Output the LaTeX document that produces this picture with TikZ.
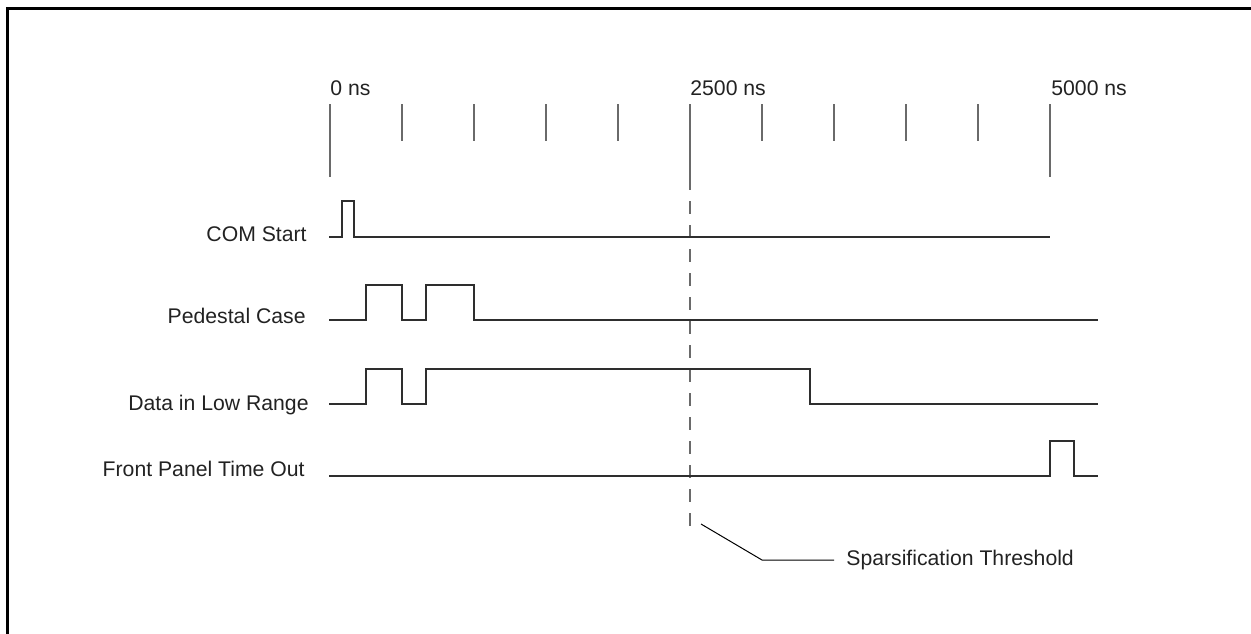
\documentclass[tikz,border=0pt]{standalone}
\usepackage{fontspec}
\setmainfont{Liberation Sans}
\definecolor{tickgray}{HTML}{6A6A6A}
\definecolor{wavegray}{HTML}{2E2E2E}
\definecolor{textgray}{HTML}{222222}
\tikzset{
  wave/.style={draw=wavegray, line width=0.8pt},
  tickmark/.style={draw=tickgray, line width=1pt},
  thresh/.style={draw=tickgray, line width=0.9pt, dash pattern=on 6.5pt off 5.5pt},
  signame/.style={inner sep=0pt, text=textgray, font=\fontsize{10.6pt}{12pt}\selectfont}
}
\begin{document}
\begin{tikzpicture}[x=0.5pt,y=-0.5pt]
\useasboundingbox (0,0) rectangle (1251,633);

% Marco
\draw[line width=1.5pt] (7.5,640) -- (7.5,8.5) -- (1260,8.5);

% Escala de tiempo
\node[signame, anchor=base west] (t0) at (330,95) {0 ns};
\node[signame, anchor=base west] (t1) at (690,95) {2500 ns};
\node[signame, anchor=base west] (t2) at (1051,95) {5000 ns};
\draw[tickmark] (330,104) -- (330,177);
\draw[tickmark] (690,104) -- (690,177);
\draw[tickmark] (1050,104) -- (1050,177);
\foreach \x in {402,474,546,618,762,834,906,978}
  \draw[tickmark] (\x,104) -- (\x,141);

% Umbral
\draw[thresh] (690,177) -- (690,530);

% Señales
\node[signame, anchor=base east] (com) at (307,241.5) {COM Start};
\draw[wave] (329,237) -- (342,237) -- (342,201) -- (354,201) -- (354,237) -- (1050,237);

\node[signame, anchor=base east] (ped) at (306,323.5) {Pedestal Case};
\draw[wave] (329,320) -- (366,320) -- (366,285) -- (402,285) -- (402,320) -- (426,320)
  -- (426,285) -- (474,285) -- (474,320) -- (1098,320);

\node[signame, anchor=base east] (low) at (309,410) {Data in Low Range};
\draw[wave] (329,404) -- (366,404) -- (366,369) -- (402,369) -- (402,404) -- (426,404)
  -- (426,369) -- (810,369) -- (810,404) -- (1098,404);

\node[signame, anchor=base east] (fpto) at (305,476.5) {Front Panel Time Out};
\draw[wave] (329,476) -- (1050,476) -- (1050,441) -- (1074,441) -- (1074,476) -- (1098,476);

% Etiqueta del umbral
\node[signame, anchor=west, inner sep=6pt] (sparse) at (834,560) {Sparsification Threshold};
\coordinate (lead) at (701,524);
\coordinate (bend) at (762,560);
\draw[line width=0.5pt] (lead) -- (bend) -- (sparse.west);
\end{tikzpicture}
\end{document}
